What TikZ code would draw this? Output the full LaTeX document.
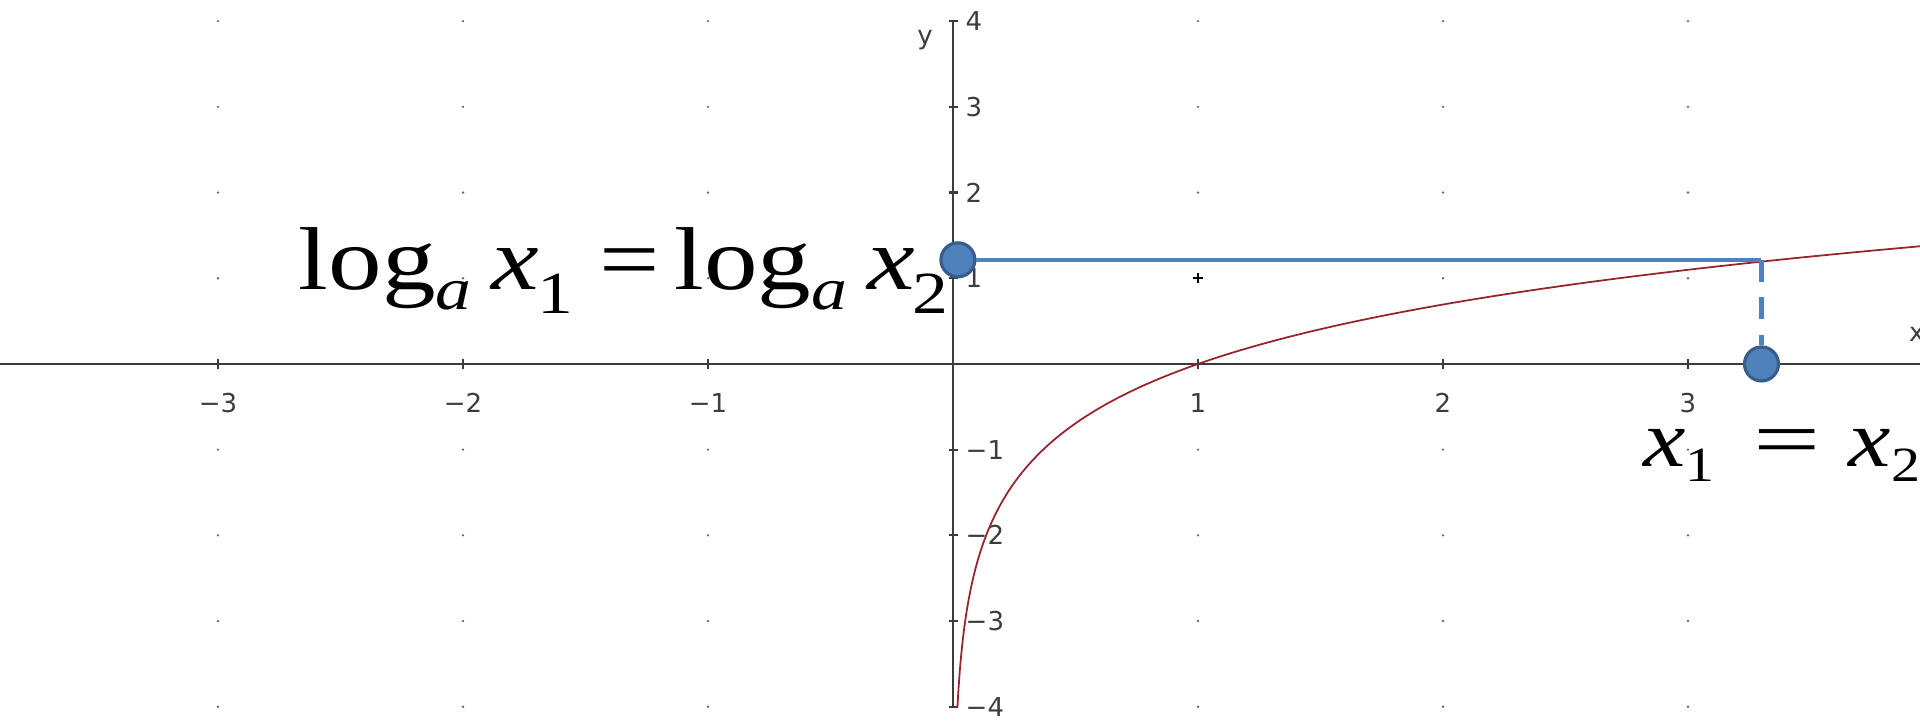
\documentclass[tikz,border=0pt]{standalone}
\usepackage{fontspec}
\setmainfont{Liberation Serif}
\newfontfamily\ticksfont{DejaVu Sans}
\usetikzlibrary{positioning}
\definecolor{linkblue}{RGB}{79,129,189}
\definecolor{ringblue}{RGB}{56,93,138}
\definecolor{curvered}{RGB}{150,35,45}
\definecolor{axisgray}{RGB}{60,60,60}
\newcommand{\sublow}[3]{\raisebox{-#1}{\fontsize{#2}{#2}\selectfont #3}}

\begin{document}
\begin{tikzpicture}[x=2.45cm, y=0.857cm,
    axisline/.style={draw=axisgray, line width=0.6pt},
    ticklabel/.style={font=\ticksfont\fontsize{7.4}{8}\selectfont, text=axisgray, inner sep=0pt},
    eqtext/.style={inner sep=0pt, font=\fontsize{25.4}{30}\selectfont},
    blueline/.style={draw=linkblue, line width=1.15pt},
    bluedot/.style={circle, fill=linkblue, draw=ringblue, line width=0.9pt, minimum size=0.34cm, inner sep=0pt}]

\useasboundingbox (-3.890,-4.189) rectangle (3.947,4.247);

% grid dots
\foreach \x in {-3,...,3}
  \foreach \y in {-4,...,4} {
    \ifnum\x=0\relax\else\ifnum\y=0\relax\else
      \fill[black!60] (\x,\y) circle (0.013cm);
    \fi\fi
  }
\draw[black, line width=0.5pt] (1,1) ++(-0.05cm,0) -- ++(0.1cm,0) (1,1) ++(0,-0.05cm) -- ++(0,0.1cm);

% axes
\draw[axisline] (-3.890,0) -- (3.947,0);
\draw[axisline] (0,-4) -- (0,4);
\foreach \x in {-3,-2,-1,1,2,3}
  \draw[axisline] (\x,0) ++(0,-0.05cm) -- ++(0,0.1cm);
\foreach \y in {-4,-3,-2,-1,1,2,3,4}
  \draw[axisline] (0,\y) ++(-0.045cm,0) -- ++(0.09cm,0);

\foreach \x/\t in {-3/−3,-2/−2,-1/−1,1/1,2/2,3/3}
  \node[ticklabel] (xtick\x) at (\x,-0.455) {\t};
\foreach \y/\t in {4/4,3/3,2/2,1/1,-1/−1,-2/−2,-3/−3,-4/−4}
  \node[ticklabel, anchor=west] (ytick\y) at (0.049,\y) {\t};
\node[ticklabel] (yname) at (-0.114,3.78) {y};
\node[ticklabel, anchor=west] (xname) at (3.90,0.34) {x};

% y = log x
\draw[curvered, line width=0.5pt, smooth, samples=120, domain=-4:1.373] plot ({exp(\x)},\x);

% equations
\node[eqtext, anchor=base west] (logeq) at (-2.673,0.863)
  {\scalebox{1.2}[1]{log\sublow{5.6pt}{17}{\itshape a}\hspace{0.19em}\textit{x}\hspace{-0.02em}\sublow{6.8pt}{17}{1}\hspace{0.25em}=\hspace{0.13em}log\sublow{5.6pt}{17}{\itshape a}\hspace{0.19em}\textit{x}\hspace{-0.02em}\sublow{6.8pt}{17}{2}}};
\node[eqtext, font=\fontsize{23}{27}\selectfont, text height=0.5em, anchor=base west] (xeq) at (2.816,-1.198)
  {\scalebox{1.18}[1]{\textit{x}\sublow{4.3pt}{14}{1}\hspace{0.4em}\scalebox{1.25}[1]{=}\hspace{0.3em}\textit{x}\sublow{4.3pt}{14}{2}}};

% points and connectors
\node[bluedot] (ydot) at (0.02,1.215) {};
\node[bluedot] (xdot) at (3.3,0) {};
\coordinate (corner) at (3.3,1.215);
\draw[blueline] (ydot) -- (corner);
\draw[blueline, dash pattern=on 6.2pt off 4.5pt] (corner) -- (xdot);
\end{tikzpicture}
\end{document}
